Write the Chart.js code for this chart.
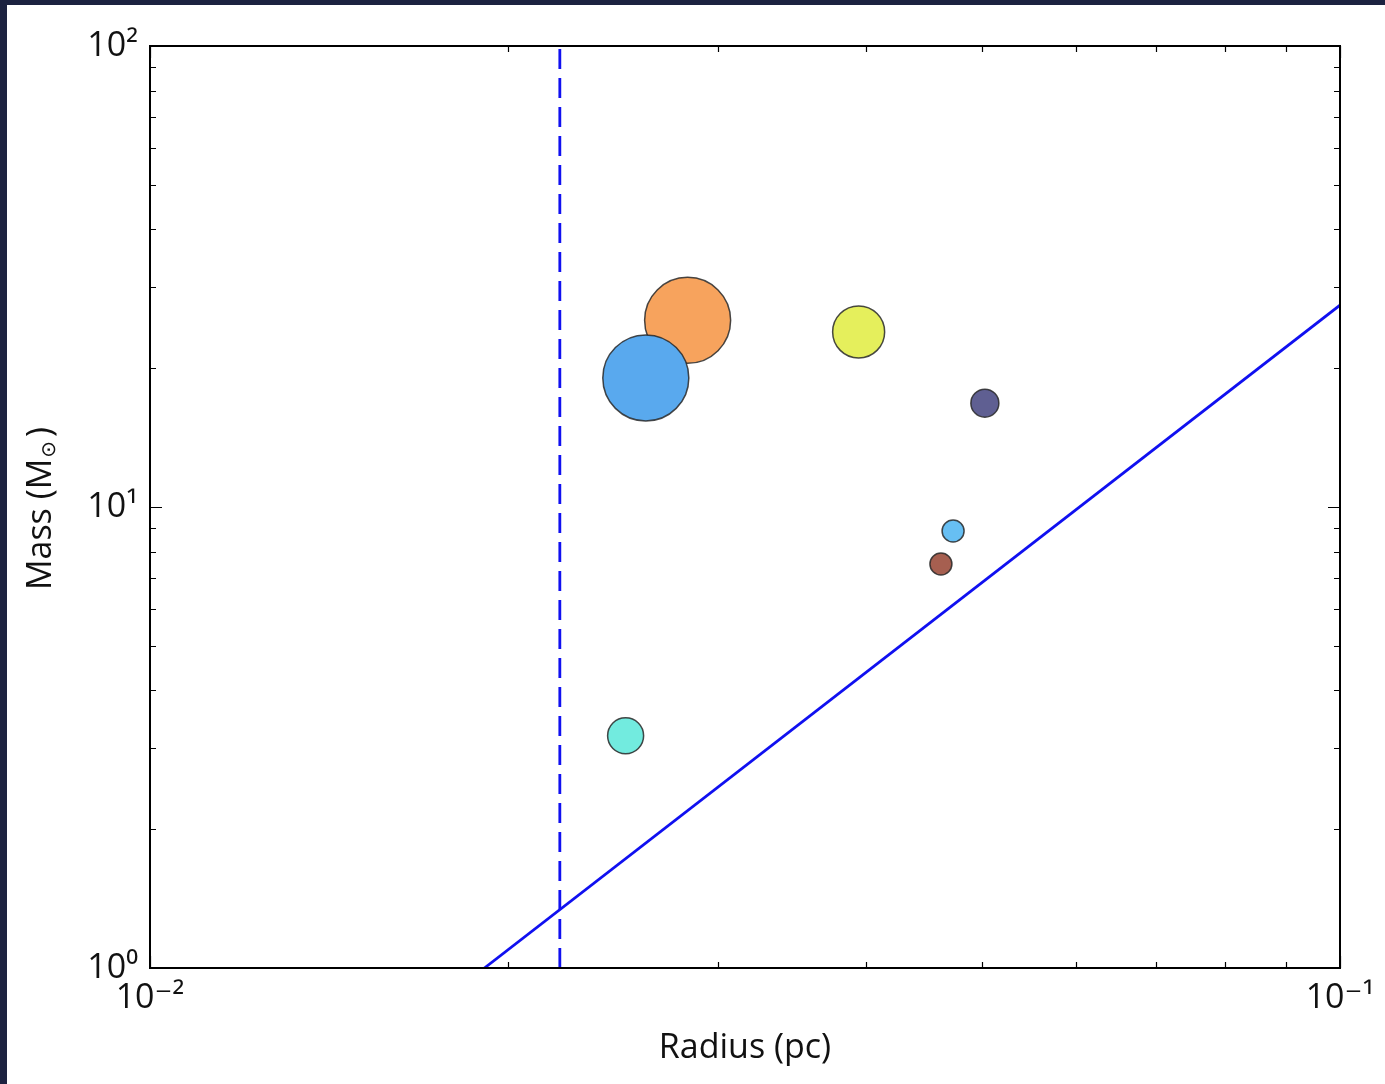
<!DOCTYPE html>
<html>
<head>
<meta charset="utf-8">
<style>
  html, body { margin: 0; padding: 0; background: #ffffff; }
  #wrap { width: 1385px; height: 1084px; }
</style>
<script src="https://cdn.jsdelivr.net/npm/chart.js@4.4.1/dist/chart.umd.min.js"></script>
</head>
<body>
<div id="wrap"><canvas id="c" width="1385" height="1084"></canvas></div>
<script>
// Cores: radius (pc) and mass (Msun)
const coreNames  = ['core A', 'core B', 'core C', 'core D', 'core E', 'core F', 'core G'];
const coreRadius = [0.0283, 0.0261, 0.0394, 0.0503, 0.0473, 0.0462, 0.0251];
const coreMass   = [25.4, 19.05, 23.97, 16.8, 8.87, 7.52, 3.19];

// Reference curves
const relationRadius = [0.0191, 0.1];   // M = 2740 R^2
const relationMass   = [1.0, 27.4];
const limitRadius    = 0.0221;           // resolution limit
const limitMass      = [1, 100];

// Axis tick values
const xMajor = [0.01, 0.1];
const yMajor = [1, 10, 100];
const xLabels = ['10\u207B\u00B2', '10\u207B\u00B9'];
const yLabels = ['10\u2070', '10\u00B9', '10\u00B2'];
const xMinor = [0.02, 0.03, 0.04, 0.05, 0.06, 0.07, 0.08, 0.09];
const yMinor = [2, 3, 4, 5, 6, 7, 8, 9, 20, 30, 40, 50, 60, 70, 80, 90];

// Marker styling
const markerColors = ['#f7a35d', '#59a9ee', '#e5ef5c', '#5f5f92', '#67bff3', '#a65f50', '#72ebdf'];
const markerSizes  = [43, 43, 26, 14, 11, 11, 18];

const FONT = '"Open Sans", "DejaVu Sans", sans-serif';

const framePlugin = {
  id: 'frame',
  beforeDraw(chart) {
    const ctx = chart.ctx;
    ctx.save();
    ctx.fillStyle = '#ffffff';
    ctx.fillRect(0, 0, chart.width, chart.height);
    ctx.fillStyle = '#1c2240';
    ctx.fillRect(0, 0, chart.width, 5);
    ctx.fillRect(0, 0, 7, chart.height);
    ctx.restore();
  },
  afterDraw(chart) {
    const ctx = chart.ctx;
    const a = chart.chartArea;
    const xs = chart.scales.x, ys = chart.scales.y;
    ctx.save();
    ctx.strokeStyle = '#000000';
    ctx.lineWidth = 1.2;
    const tick = (len, vals, horiz) => {
      vals.forEach(v => {
        ctx.beginPath();
        if (horiz) {
          const p = Math.round(xs.getPixelForValue(v)) + 0.5;
          ctx.moveTo(p, a.bottom); ctx.lineTo(p, a.bottom - len);
          ctx.moveTo(p, a.top); ctx.lineTo(p, a.top + len);
        } else {
          const p = Math.round(ys.getPixelForValue(v)) + 0.5;
          ctx.moveTo(a.left, p); ctx.lineTo(a.left + len, p);
          ctx.moveTo(a.right, p); ctx.lineTo(a.right - len, p);
        }
        ctx.stroke();
      });
    };
    tick(12, xMajor, true);
    tick(6, xMinor, true);
    tick(12, yMajor, false);
    tick(6, yMinor, false);
    ctx.lineWidth = 2;
    ctx.strokeRect(a.left, a.top, a.right - a.left, a.bottom - a.top);

    // y-axis title with subscript sun symbol
    ctx.translate(41, (a.top + a.bottom) / 2 + 2);
    ctx.rotate(-Math.PI / 2);
    ctx.fillStyle = '#111111';
    ctx.textBaseline = 'middle';
    const big = '34px ' + FONT, small = '20px ' + FONT;
    ctx.font = big;
    const w1 = ctx.measureText('Mass (M').width;
    ctx.font = small;
    const w2 = ctx.measureText('\u2299').width;
    ctx.font = big;
    const w3 = ctx.measureText(')').width;
    const total = w1 + w2 + 4 + w3;
    let x0 = -total / 2;
    ctx.textAlign = 'left';
    ctx.fillText('Mass (M', x0, 0);
    ctx.font = small;
    ctx.fillText('\u2299', x0 + w1 + 1, 8);
    ctx.font = big;
    ctx.fillText(')', x0 + w1 + w2 + 5, 0);
    ctx.restore();
  }
};

const points = coreRadius.map((r, i) => ({ x: r, y: coreMass[i] }));

new Chart(document.getElementById('c'), {
  type: 'scatter',
  data: {
    datasets: [
      {
        label: 'cores',
        data: points,
        backgroundColor: markerColors,
        borderColor: 'rgba(40,40,40,0.85)',
        borderWidth: 1.5,
        pointRadius: markerSizes,
        pointHoverRadius: markerSizes,
        order: 0
      },
      {
        type: 'line',
        label: 'M \u221D R\u00B2',
        data: relationRadius.map((r, i) => ({ x: r, y: relationMass[i] })),
        borderColor: '#1010f0',
        borderWidth: 2.8,
        pointRadius: 0,
        fill: false,
        order: 1
      },
      {
        type: 'line',
        label: 'limit',
        data: limitMass.map(m => ({ x: limitRadius, y: m })),
        borderColor: '#1010f0',
        borderWidth: 2.8,
        borderDash: [20, 9],
        pointRadius: 0,
        fill: false,
        order: 1
      }
    ]
  },
  options: {
    responsive: false,
    animation: false,
    events: [],
    layout: { padding: { left: 0, top: 46, right: 45, bottom: 0 } },
    plugins: { legend: { display: false }, tooltip: { enabled: false } },
    scales: {
      x: {
        type: 'logarithmic',
        position: 'bottom',
        min: 0.01, max: 0.1,
        grid: { display: false, drawTicks: false },
        border: { display: false },
        afterBuildTicks(s) { s.ticks = xMajor.map(v => ({ value: v })); },
        afterFit(s) { s.height = 116; },
        ticks: {
          autoSkip: false, maxRotation: 0, padding: 10,
          color: '#111111',
          font: { family: FONT, size: 34 },
          callback: (v) => xLabels[xMajor.indexOf(v)]
        },
        title: {
          display: true, text: 'Radius (pc)', color: '#111111',
          font: { family: FONT, size: 34 },
          padding: { top: 0, bottom: 15 }
        }
      },
      y: {
        type: 'logarithmic',
        position: 'left',
        min: 1, max: 100,
        grid: { display: false, drawTicks: false },
        border: { display: false },
        afterBuildTicks(s) { s.ticks = yMajor.map(v => ({ value: v })); },
        afterFit(s) { s.width = 150; },
        ticks: {
          autoSkip: false, padding: 12,
          color: '#111111',
          font: { family: FONT, size: 34 },
          callback: (v) => yLabels[yMajor.indexOf(v)]
        },
        title: { display: false }
      }
    }
  },
  plugins: [framePlugin]
});
</script>
</body>
</html>
